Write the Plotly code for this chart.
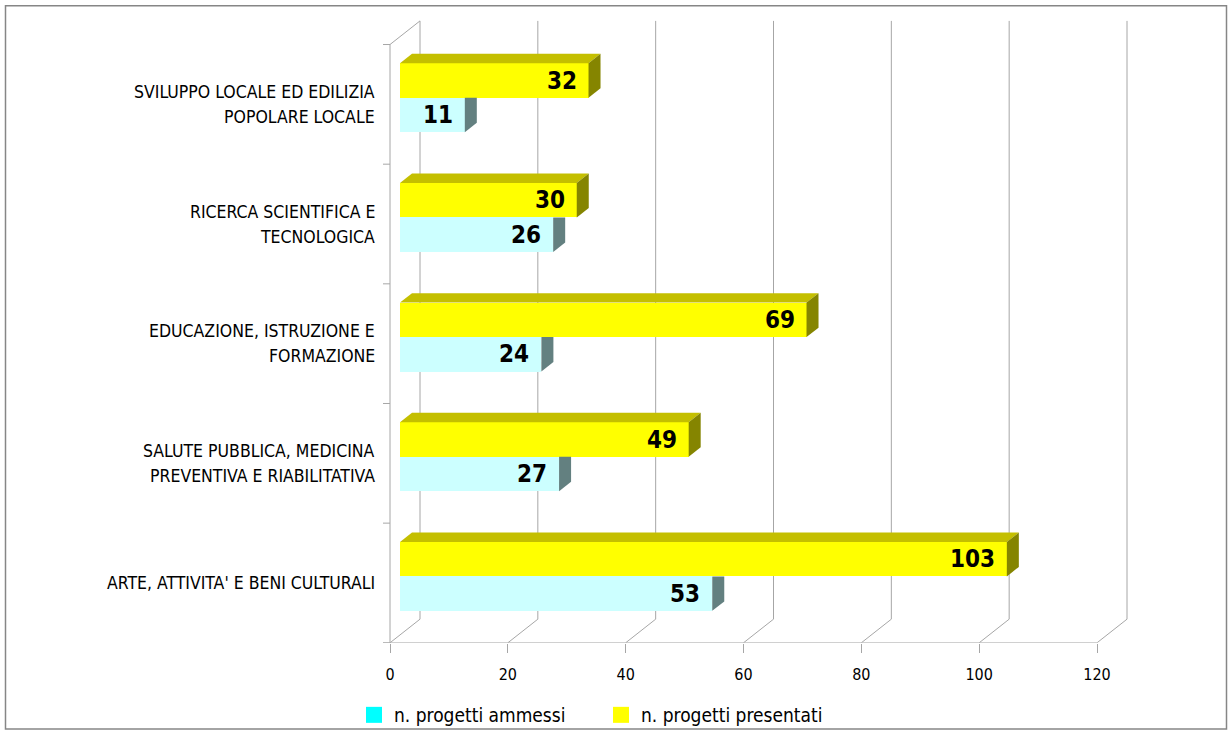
import plotly.graph_objects as go

# ---- data -------------------------------------------------------------
categories = [
    "ARTE, ATTIVITA' E BENI CULTURALI",
    "SALUTE PUBBLICA, MEDICINA|PREVENTIVA E RIABILITATIVA",
    "EDUCAZIONE, ISTRUZIONE E|FORMAZIONE",
    "RICERCA SCIENTIFICA E|TECNOLOGICA",
    "SVILUPPO LOCALE ED EDILIZIA|POPOLARE LOCALE",
]
ammessi = [53, 27, 24, 26, 11]
presentati = [103, 49, 69, 30, 32]
x_ticks = [0, 20, 40, 60, 80, 100, 120]
series_names = ["n. progetti ammessi", "n. progetti presentati"]

# ---- page geometry (pixels) -------------------------------------------
W, H = 1228, 742
PLOT_L, PLOT_R, PLOT_T, PLOT_B = 370, 1140, 15, 653
X0_PX = 390                      # x = 0 on the front plane
PXU = 707 / 120                  # pixels per value unit
BAND = 121.6                     # pixels per category band

# oblique 3D projection offsets, expressed in axis units
WALL_DX, WALL_DY = 30 / PXU, 24 / BAND      # back wall depth
BAR_DX = 10 / PXU                           # bars sit a third of the way back
BAR_SHIFT = 0.055
TH_DX, TH_DY = 12 / PXU, 9.6 / BAND         # bar thickness
BAR_W = 0.288
N_CAT = len(categories)
TOP = N_CAT + WALL_DY

FONT = "Liberation Sans Narrow, Arial Narrow, DejaVu Sans Condensed, sans-serif"
GRID = "#A6A6A6"

C_AMM_FRONT, C_AMM_SIDE, C_AMM_LEG = "#CCFFFF", "#638080", "#00FFFF"
C_PRE_FRONT, C_PRE_TOP, C_PRE_SIDE = "#FFFF00", "#C4BF00", "#858500"

fig = go.Figure()

# ---- walls and gridlines ----------------------------------------------
shapes = []
def seg(x0, y0, x1, y1, color=GRID):
    shapes.append(dict(type="line", xref="x", yref="y", x0=x0, y0=y0, x1=x1, y1=y1,
                       line=dict(color=color, width=1), layer="below"))

for t in x_ticks:
    seg(t, 0, t + WALL_DX, WALL_DY)                 # floor diagonal
    seg(t + WALL_DX, WALL_DY, t + WALL_DX, TOP)     # back wall gridline
cat_tick = -7 / PXU
seg(cat_tick, 0, x_ticks[-1], 0)                    # front floor edge
seg(0, 0, 0, N_CAT)                                 # left wall front edge
seg(0, N_CAT, WALL_DX, TOP)                         # left wall top edge
for k in range(N_CAT + 1):
    seg(cat_tick, k, 0, k)                          # category tick marks

# ---- bars ---------------------------------------------------------------
y_pre = [i + 0.5 + BAR_SHIFT + BAR_W / 2 for i in range(N_CAT)]
y_amm = [i + 0.5 + BAR_SHIFT - BAR_W / 2 for i in range(N_CAT)]

fig.add_trace(go.Bar(orientation="h", y=y_amm, x=ammessi, base=BAR_DX, width=BAR_W,
                     marker=dict(color=C_AMM_FRONT, line=dict(width=0)),
                     name=series_names[0], showlegend=False, hoverinfo="x"))
fig.add_trace(go.Bar(orientation="h", y=y_pre, x=presentati, base=BAR_DX, width=BAR_W,
                     marker=dict(color=C_PRE_FRONT, line=dict(width=0)),
                     name=series_names[1], showlegend=False, hoverinfo="x"))

def face(xs, ys, color):
    fig.add_trace(go.Scatter(x=xs + [xs[0]], y=ys + [ys[0]], mode="lines", fill="toself",
                             fillcolor=color, line=dict(width=0, color=color),
                             hoverinfo="skip", showlegend=False))

for yc, v, vp in zip(y_amm, ammessi, presentati):
    x1 = BAR_DX + v
    yb, yt = yc - BAR_W / 2, yc + BAR_W / 2
    # right side of the lower bar; its upper part is hidden behind the bar above
    face([x1, x1, x1 + TH_DX, x1 + TH_DX], [yb, yt, yt, yb + TH_DY], C_AMM_SIDE)

for yc, v in zip(y_pre, presentati):
    x1 = BAR_DX + v
    yb, yt = yc - BAR_W / 2, yc + BAR_W / 2
    face([BAR_DX, x1, x1 + TH_DX, BAR_DX + TH_DX], [yt, yt, yt + TH_DY, yt + TH_DY], C_PRE_TOP)
    face([x1, x1, x1 + TH_DX, x1 + TH_DX], [yb, yt, yt + TH_DY, yb + TH_DY], C_PRE_SIDE)

# legend swatches
for name, col in zip(series_names, [C_AMM_LEG, C_PRE_FRONT]):
    fig.add_trace(go.Scatter(x=[None], y=[None], mode="markers", name=name,
                             marker=dict(symbol="square", size=16, color=col)))

# ---- annotations: value labels and category labels ---------------------
ann = []
for ys, vals in ((y_amm, ammessi), (y_pre, presentati)):
    for yc, v in zip(ys, vals):
        ann.append(dict(x=BAR_DX + v, y=yc, xref="x", yref="y", text=f"<b>{v}</b>",
                        showarrow=False, xanchor="right", yanchor="middle", xshift=-10,
                        font=dict(family=FONT, size=24, color="black")))

label_x = -13 / PXU
for i, cat in enumerate(categories):
    lines = cat.split("|")
    n = len(lines)
    # centre each wrapped line under the longest one
    for j, line in enumerate(lines):
        ann.append(dict(x=label_x, y=i + 0.5, xref="x", yref="y", text=line,
                        showarrow=False, xanchor="right", yanchor="middle", align="center",
                        yshift=(n - 1) / 2 * 25 - j * 25,
                        font=dict(family=FONT, size=17.5, color="black")))

# outer frame of the chart area
def px_to_paper_x(px):
    return (px - PLOT_L) / (PLOT_R - PLOT_L)
def px_to_paper_y(py):
    return (PLOT_B - py) / (PLOT_B - PLOT_T)

shapes.append(dict(type="rect", xref="paper", yref="paper",
                   x0=px_to_paper_x(5.5), x1=px_to_paper_x(1226.5),
                   y0=px_to_paper_y(740.5), y1=px_to_paper_y(5.5),
                   line=dict(color="#868686", width=1.5), layer="below"))

fig.update_layout(
    width=W, height=H,
    margin=dict(l=PLOT_L, r=W - PLOT_R, t=PLOT_T, b=H - PLOT_B, pad=0),
    paper_bgcolor="white", plot_bgcolor="white",
    barmode="overlay", bargap=0,
    shapes=shapes, annotations=ann,
    font=dict(family=FONT, color="black"),
    xaxis=dict(range=[(PLOT_L - X0_PX) / PXU, (PLOT_R - X0_PX) / PXU],
               tickvals=x_ticks, ticktext=[str(t) for t in x_ticks],
               ticks="outside", ticklen=9, tickcolor=GRID, tickwidth=1,
               showline=False, showgrid=False, zeroline=False,
               ticklabelstandoff=8, tickfont=dict(family=FONT, size=16, color="black")),
    yaxis=dict(range=[0, (PLOT_B - PLOT_T) / BAND], visible=False, fixedrange=True),
    legend=dict(orientation="h", xref="container", yref="container",
                x=354 / W, xanchor="left", y=1 - 715 / H, yanchor="middle",
                font=dict(family=FONT, size=19, color="black"),
                itemwidth=30, entrywidth=202, entrywidthmode="pixels",
                bgcolor="rgba(0,0,0,0)"),
    showlegend=True,
)

fig.write_html("out.html")
